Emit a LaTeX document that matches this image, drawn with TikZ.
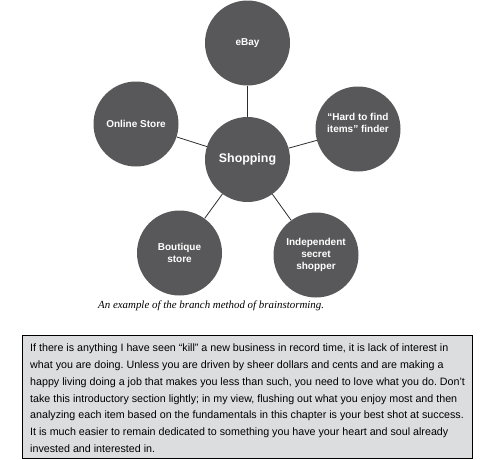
\documentclass[tikz,border=0pt]{standalone}
\usepackage{fontspec}
\setmainfont{Liberation Serif}
\setsansfont{Liberation Sans}
\definecolor{bubble}{RGB}{88,88,90}
\definecolor{boxfill}{RGB}{220,221,223}
\definecolor{linkc}{RGB}{45,45,45}
\frenchspacing
\begin{document}
\begin{tikzpicture}[x=1pt,y=-1pt,
  bub/.style={circle,fill=bubble,minimum size=85pt,inner sep=0pt,text=white,align=center,
    font=\sffamily\bfseries\fontsize{10}{11.7}\selectfont},
  btext/.style={text=white,align=center,inner sep=0pt,font=\sffamily\bfseries\fontsize{10}{11.7}\selectfont},
  link/.style={draw=linkc,line width=0.8pt}]
\useasboundingbox (0,0) rectangle (493,459);
\node[bub] (ebay) at (247.5,43) {eBay};
\node[bub,font=\sffamily\bfseries\fontsize{12.4}{14}\selectfont] (shop) at (247.5,159.5) {Shopping};
\node[bub] (online) at (136,124) {Online Store};
\node[bub] (hard) at (358,129) {};
\node[btext] (hardtext) at (358,123) {``Hard to find\\items'' finder};
\node[bub] (boutique) at (179.5,253) {Boutique\\store};
\node[bub] (indep) at (316,255) {Independent\\secret\\shopper};
\draw[link] (shop) -- (ebay);
\draw[link] (shop) -- (online);
\draw[link] (shop) -- (hard);
\draw[link] (shop) -- (boutique);
\draw[link] (shop) -- (indep);
\node[anchor=base west,inner sep=0pt,font=\itshape\fontsize{10.9}{12}\selectfont] (caption) at (98,308) {An example of the branch method of brainstorming.};
\node[draw=black,line width=1pt,fill=boxfill,minimum width=450pt,minimum height=123pt,inner sep=0pt] (box) at (247,396.5) {};
\node[anchor=north west,inner sep=0pt,align=left,font=\sffamily\fontsize{10.7}{16.7}\selectfont] (para) at (30,344) {If there is anything I have seen ``kill'' a new business in record time, it is lack of interest in\\
what you are doing. Unless you are driven by sheer dollars and cents and are making a\\
happy living doing a job that makes you less than such, you need to love what you do. Don’t\\
take this introductory section lightly; in my view, flushing out what you enjoy most and then\\
analyzing each item based on the fundamentals in this chapter is your best shot at success.\\
It is much easier to remain dedicated to something you have your heart and soul already\\
invested and interested in.};
\end{tikzpicture}
\end{document}
